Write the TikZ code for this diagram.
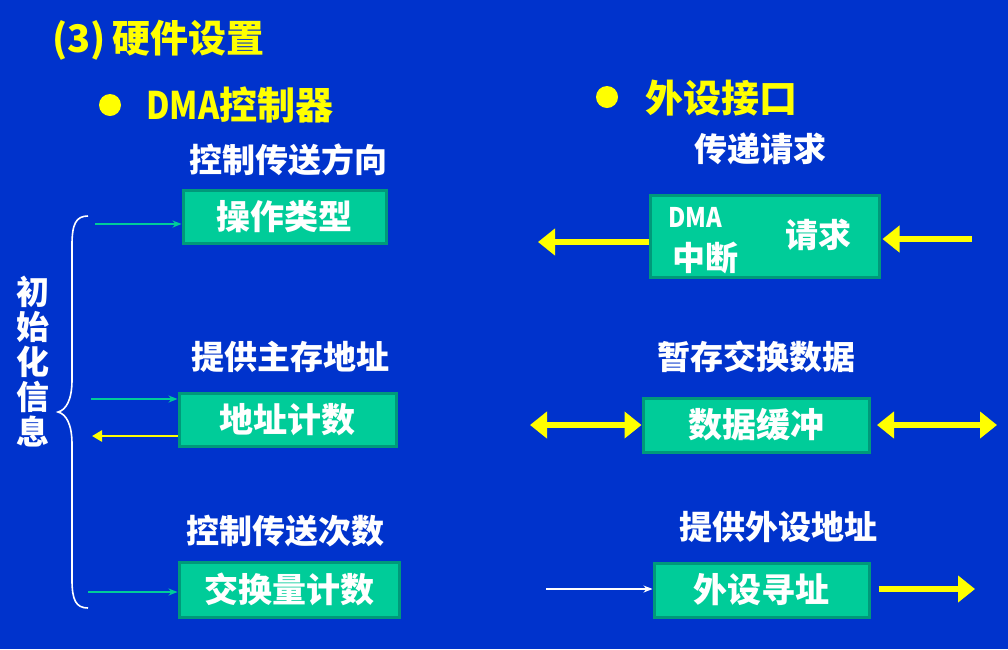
\documentclass[tikz,border=0pt]{standalone}
\usepackage{fontspec}
\setmainfont{Noto Sans CJK SC}
\usetikzlibrary{arrows.meta}
\definecolor{slidebg}{HTML}{0033CC}
\definecolor{boxfill}{HTML}{00CC99}
\definecolor{boxedge}{HTML}{00997A}
\definecolor{hl}{HTML}{FFFF00}
\tikzset{
  unitbox/.style={draw=boxedge, line width=3pt, fill=boxfill, text=white,
    font=\bfseries\fontsize{34}{36}\selectfont, inner sep=0pt},
  caption/.style={text=white, font=\bfseries\fontsize{33}{36}\selectfont, inner sep=0pt},
  heading/.style={text=hl, font=\bfseries\fontsize{38}{40}\selectfont, inner sep=0pt},
  dot/.style={circle, fill=hl, minimum size=22pt, inner sep=0pt},
  thinarrow/.style={line width=1.4pt, -{Stealth[length=9pt,width=7pt]}},
  yarrow/.style={draw=hl, line width=6pt, -{Triangle[length=17pt,width=26pt]}, shorten >=0pt},
  ydouble/.style={draw=hl, line width=6pt, {Triangle[length=17pt,width=26pt]}-{Triangle[length=17pt,width=26pt]}},
}
\begin{document}
\begin{tikzpicture}[x=1pt, y=-1pt]
  % canvas
  \fill[slidebg] (0,0) rectangle (1008,649);
  \useasboundingbox (0,0) rectangle (1008,649);

  % headings
  \node[heading, anchor=west] (title) at (52,40) {(3)\,硬件设置};
  \node[dot] (b1) at (110,105) {};
  \node[heading, anchor=west] (dmac) at (146,105) {\scalebox{0.85}[1]{DMA}控制器};
  \node[dot] (b2) at (607,97) {};
  \node[heading, anchor=west] (ifc) at (645,98) {外设接口};

  % DMA controller side
  \node[caption] (c1) at (288,160) {控制传送方向};
  \node[unitbox, minimum width=203pt, minimum height=53pt] (box1) at (284.5,216.5) {操作类型};
  \node[caption] (c2) at (290,357) {提供主存地址};
  \node[unitbox, minimum width=217pt, minimum height=53pt] (box2) at (287.5,419.5) {地址计数};
  \node[caption] (c3) at (285,531) {控制传送次数};
  \node[unitbox, minimum width=220pt, minimum height=55pt] (box3) at (289,589.5) {交换量计数};

  % initialisation brace and label
  \coordinate (brtop) at (88,216);
  \coordinate (brtip) at (58,412);
  \coordinate (brbot) at (88,608);
  \draw[white, line width=1.6pt]
    (brtop) .. controls (76,216) and (72,224) .. (72,245)
    -- (72,380) .. controls (72,400) and (66,410) .. (brtip)
    .. controls (66,414) and (72,424) .. (72,444)
    -- (72,580) .. controls (72,600) and (76,608) .. (brbot);
  \node[caption, align=center, font=\bfseries\fontsize{33}{35}\selectfont] (init) at (33,362)
    {初\\始\\化\\信\\息};

  \coordinate (s1) at (95,224);
  \coordinate (s2) at (91,399);
  \coordinate (s2r) at (92,436);
  \coordinate (s3) at (88,592);
  \draw[thinarrow, boxfill] (s1) -- ([yshift=-7.5pt]box1.west);
  \draw[thinarrow, boxfill] (s2) -- ([yshift=20.5pt]box2.west);
  \draw[thinarrow, hl, line width=2.5pt, -{Triangle[length=10pt,width=11pt]}] ([yshift=-16.5pt]box2.west) -- (s2r);
  \draw[thinarrow, boxfill] (s3) -- ([yshift=-2.5pt]box3.west);

  % peripheral interface side
  \node[caption] (c4) at (760,149) {传递请求};
  \node[unitbox, minimum width=229pt, minimum height=82pt] (box4) at (764.5,236) {};
  \node[text=white, font=\bfseries\fontsize{27}{30}\selectfont, inner sep=0pt] (dma) at (695,217) {\scalebox{0.88}[1]{DMA}};
  \node[caption] (irq) at (705,258) {中断};
  \node[caption] (req) at (818,235) {请求};
  \coordinate (l4) at (538,242);
  \coordinate (r4) at (972,239);
  \draw[yarrow] ([yshift=-6pt]box4.west) -- (l4);
  \draw[yarrow] (r4) -- ([xshift=2pt,yshift=-3pt]box4.east);

  \node[caption] (c5) at (756,357) {暂存交换数据};
  \node[unitbox, minimum width=226pt, minimum height=54pt] (box5) at (756,425) {数据缓冲};
  \coordinate (l5) at (530,425);
  \coordinate (r5a) at (877,425);
  \coordinate (r5b) at (997,425);
  \draw[ydouble] (l5) -- (box5.west);
  \draw[ydouble] (r5a) -- (r5b);

  \node[caption] (c6) at (778,527) {提供外设地址};
  \node[unitbox, minimum width=215pt, minimum height=54pt] (box6) at (761.5,590) {外设寻址};
  \coordinate (l6) at (546,589);
  \coordinate (r6) at (975,589);
  \draw[thinarrow, white, line width=1.2pt] (l6) -- ([yshift=1pt]box6.west);
  \draw[yarrow] ([xshift=8pt,yshift=1pt]box6.east) -- (r6);
\end{tikzpicture}
\end{document}
